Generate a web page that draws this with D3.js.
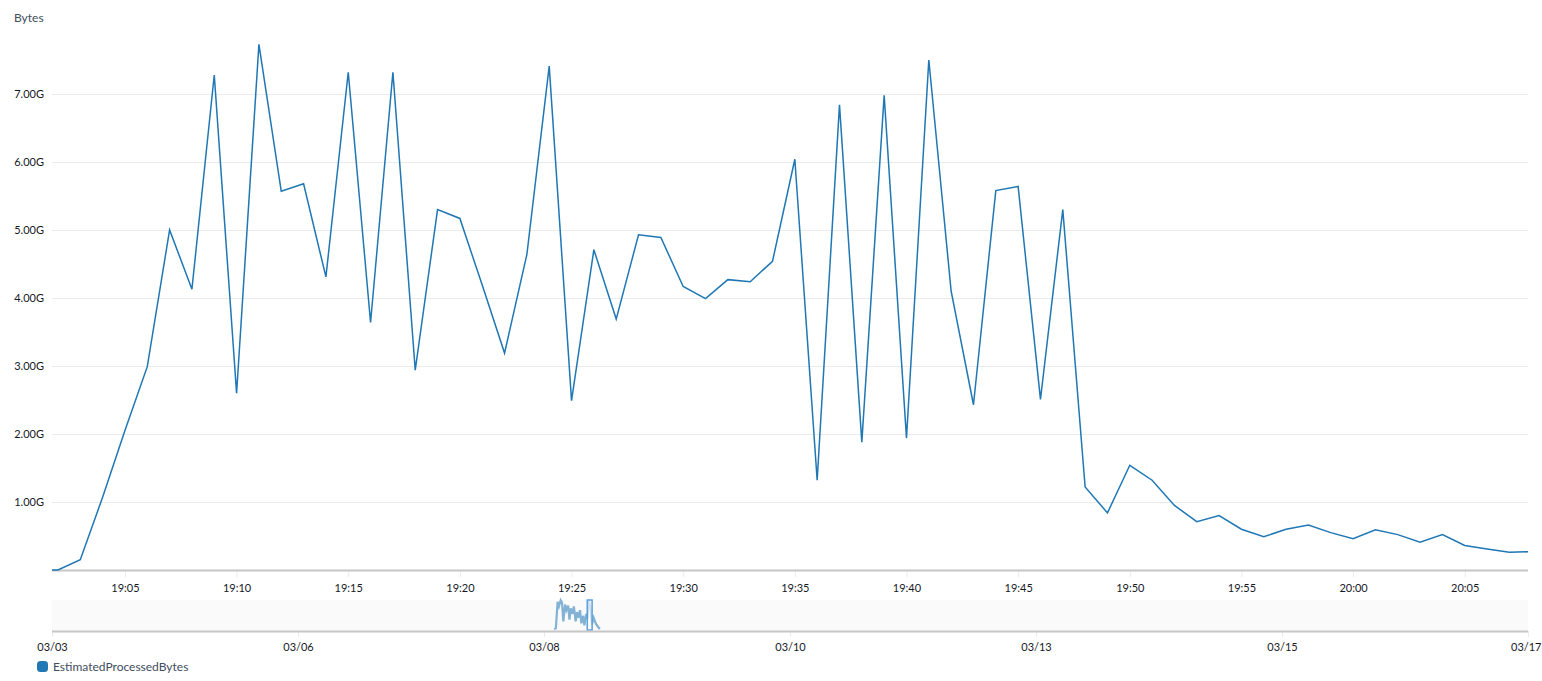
<!DOCTYPE html>
<html>
<head>
<meta charset="utf-8">
<script src="https://cdn.jsdelivr.net/npm/d3@7"></script>
<style>
  html, body { margin: 0; padding: 0; background: #fff; }
  svg { display: block; }
  text { font-family: Lato, "Open Sans", sans-serif; }
</style>
</head>
<body>
<svg id="chart" width="1542" height="681"></svg>
<script>
// ---------- data ----------
const times = ["19:01","19:02","19:03","19:04","19:05","19:06","19:07","19:08","19:09","19:10","19:11",
  "19:12","19:13","19:14","19:15","19:16","19:17","19:18","19:19","19:20","19:21",
  "19:22","19:23","19:24","19:25","19:26","19:27","19:28","19:29","19:30","19:31",
  "19:32","19:33","19:34","19:35","19:36","19:37","19:38","19:39","19:40","19:41",
  "19:42","19:43","19:44","19:45","19:46","19:47","19:48","19:49","19:50","19:51",
  "19:52","19:53","19:54","19:55","19:56","19:57","19:58","19:59","20:00","20:01",
  "20:02","20:03","20:04","20:05","20:06","20:07","20:08"];
// EstimatedProcessedBytes, in GB
const bytesG = [0.00,0.00,0.15,1.07,2.05,2.99,5.00,4.13,7.28,2.60,7.73,
  5.57,5.68,4.31,7.32,3.64,7.32,2.94,5.30,5.17,4.19,
  3.19,4.64,7.41,2.49,4.71,3.69,4.93,4.89,4.17,3.99,
  4.27,4.24,4.54,6.04,1.32,6.84,1.88,6.98,1.94,7.50,
  4.10,2.43,5.58,5.64,2.51,5.30,1.22,0.84,1.54,1.32,
  0.95,0.71,0.80,0.60,0.49,0.60,0.66,0.55,0.46,0.59,
  0.52,0.41,0.52,0.36,0.31,0.26,0.27];
const viewStart = "19:01:44";
const viewEnd = "20:07:50";
const yTicksG = [1,2,3,4,5,6,7];
const seriesName = "EstimatedProcessedBytes";
const yLabel = "Bytes";

// navigator (overview): hours since the first overview tick
const navTickLabels = ["03/03","03/06","03/08","03/10","03/13","03/15","03/17"];
const navTickHours = [0,56,112,168,224,280,336];
const navHours = [114.3,114.7,115.1,115.4,115.8,116.1,116.4,116.8,117.1,117.5,
  117.8,118.1,118.5,118.8,119.2,119.5,119.8,120.2,120.5,120.9,
  121.2,121.6,121.9,122.2,122.6,122.9,123.3,123.6,123.9,124.3,124.7];
const navValuesG = [0.0,0.2,7.2,6.0,7.6,7.0,2.0,6.5,5.0,6.2,
  2.5,5.5,4.0,6.0,2.0,4.5,3.0,5.0,1.5,3.5,
  1.0,4.0,2.6,7.5,5.5,1.2,3.0,2.0,1.2,0.6,0.0];
const navSelection = [121.85, 122.95];

// ---------- layout ----------
const L = 52, R = 1528;
const baseY = 570, gPerPx = 68;
const color = "#1f77b4";
const svg = d3.select("#chart");

const parseT = d3.timeParse("%H:%M");
const parseTS = d3.timeParse("%H:%M:%S");
const data = times.map((t, i) => ({ t: parseT(t), v: bytesG[i] * 1e9 }));

const x = d3.scaleTime().domain([parseTS(viewStart), parseTS(viewEnd)]).range([L, R]);
const y = d3.scaleLinear().domain([0, 8e9]).range([baseY, baseY - 8 * gPerPx]);

// y label
svg.append("text").attr("x", 14).attr("y", 22).attr("font-size", 12)
  .attr("fill", "#414d5c").text(yLabel);

// gridlines + y tick labels
const yAxis = d3.axisLeft(y).tickValues(yTicksG.map(d => d * 1e9))
  .tickSize(-(R - L)).tickPadding(8)
  .tickFormat(d => (d / 1e9).toFixed(2) + "G");
const gy = svg.append("g").attr("transform", `translate(${L},0)`).call(yAxis);
gy.select(".domain").remove();
gy.selectAll(".tick line").attr("stroke", "#e9ebed").attr("stroke-width", 1);
gy.selectAll(".tick text").attr("font-size", 11).attr("fill", "#16191f")
  .attr("font-family", "Lato, 'Open Sans', sans-serif");

// x axis
const xAxis = d3.axisBottom(x).ticks(d3.timeMinute.every(5))
  .tickFormat(d3.timeFormat("%H:%M")).tickSize(7).tickPadding(7);
const gx = svg.append("g").attr("transform", `translate(0,${baseY})`).call(xAxis);
gx.select(".domain").remove();
gx.selectAll(".tick line").attr("stroke", "#e9ebed").attr("stroke-width", 1);
gx.selectAll(".tick text").attr("font-size", 11).attr("fill", "#16191f")
  .attr("font-family", "Lato, 'Open Sans', sans-serif");
svg.append("line").attr("x1", L).attr("x2", R).attr("y1", baseY + 0.5).attr("y2", baseY + 0.5)
  .attr("stroke", "#c6c6c6").attr("stroke-width", 2);

// main line
svg.append("clipPath").attr("id", "clip").append("rect")
  .attr("x", L).attr("y", 0).attr("width", R - L).attr("height", baseY + 2);
svg.append("path").datum(data)
  .attr("clip-path", "url(#clip)")
  .attr("fill", "none").attr("stroke", color).attr("stroke-width", 1.5)
  .attr("stroke-linejoin", "miter")
  .attr("d", d3.line().x(d => x(d.t)).y(d => y(d.v)));

// ---------- navigator ----------
const navTop = 600, navBottom = 631;
const nx = d3.scaleLinear().domain([0, 336]).range([L, R]);
const ny = d3.scaleLinear().domain([0, 7.7e9]).range([navBottom - 2, navTop]);
svg.append("rect").attr("x", L).attr("y", navTop).attr("width", R - L)
  .attr("height", navBottom - navTop).attr("fill", "#fafafa");
const navData = navHours.map((h, i) => ({ h, v: navValuesG[i] * 1e9 }));
svg.append("path").datum(navData)
  .attr("fill", "none").attr("stroke", color).attr("stroke-opacity", 0.55)
  .attr("stroke-width", 2.2)
  .attr("d", d3.line().x(d => nx(d.h)).y(d => ny(d.v)));
svg.append("rect")
  .attr("x", nx(navSelection[0])).attr("y", navTop)
  .attr("width", nx(navSelection[1]) - nx(navSelection[0]))
  .attr("height", navBottom - navTop - 1)
  .attr("fill", "#ffffff").attr("fill-opacity", 0.6)
  .attr("stroke", "#5b9fdc").attr("stroke-width", 1.5);

const navAxis = d3.axisBottom(nx).tickValues(navTickHours)
  .tickFormat((d, i) => navTickLabels[i]).tickSize(6).tickPadding(6);
const gn = svg.append("g").attr("transform", `translate(0,${navBottom})`).call(navAxis);
gn.select(".domain").remove();
gn.selectAll(".tick line").attr("stroke", "#e9ebed").attr("stroke-width", 1);
gn.selectAll(".tick text").attr("font-size", 11).attr("fill", "#16191f")
  .attr("font-family", "Lato, 'Open Sans', sans-serif");
// keep the last label inside the page
gn.selectAll(".tick text").filter((d, i, n) => i === n.length - 1)
  .attr("text-anchor", "end").attr("dx", 13);
svg.append("line").attr("x1", L).attr("x2", R).attr("y1", navBottom + 0.5).attr("y2", navBottom + 0.5)
  .attr("stroke", "#c6c6c6").attr("stroke-width", 2);

// ---------- legend ----------
const lg = svg.append("g").attr("transform", "translate(37,661)");
lg.append("rect").attr("width", 11).attr("height", 11).attr("rx", 3.5)
  .attr("fill", color);
lg.append("text").attr("x", 16).attr("y", 10).attr("font-size", 12)
  .attr("fill", "#414d5c").text(seriesName);
</script>
</body>
</html>
